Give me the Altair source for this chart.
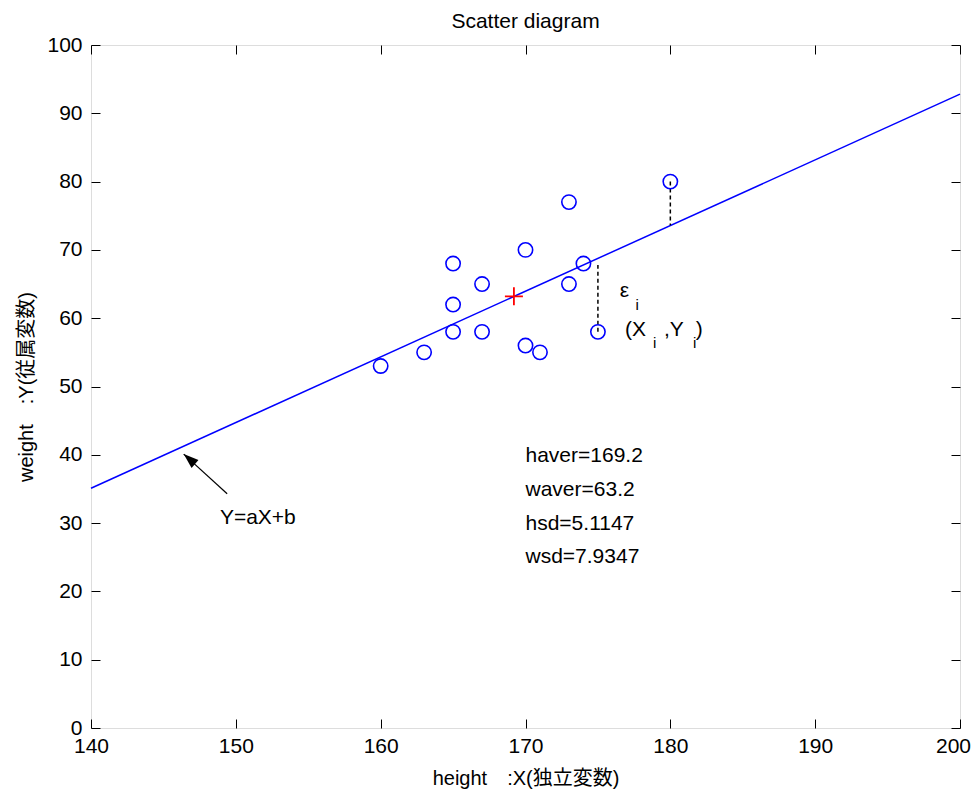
import altair as alt
import pandas as pd

# ---- data ----
heights = [160, 163, 165, 165, 165, 167, 167, 170, 170, 171, 173, 173, 174, 175, 180]
weights = [53, 55, 68, 62, 58, 65, 58, 70, 56, 55, 77, 65, 68, 58, 80]
h_mean = [169.2]
w_mean = [63.2]
fit_x = [140, 200]
fit_y = [35.1, 92.8]
resid_x = [175, 180]
resid_from = [58, 80]
resid_to = [67.8, 73.6]
stats_text = ["haver=169.2", "waver=63.2", "hsd=5.1147", "wsd=7.9347"]
stats_x = [170, 170, 170, 170]
stats_y = [38.9, 34.0, 29.0, 24.2]
ann_text = ["ε", "i", "(X", "i", ",Y", "i", ")", "Y=aX+b"]
ann_x = [176.5, 177.6, 176.87, 178.8, 179.56, 181.57, 181.75, 148.9]
ann_y = [63.1, 61.2, 57.4, 55.6, 57.4, 55.6, 57.4, 29.9]
ann_size = [21, 15, 21, 15, 21, 15, 21, 21]
arrow_x = [149.4, 146.4]
arrow_y = [34.3, 40.1]
x_ticks = [140, 150, 160, 170, 180, 190, 200]
y_ticks = [0, 10, 20, 30, 40, 50, 60, 70, 80, 90, 100]

FONT = "Liberation Sans"
CJK = "Liberation Sans, Noto Sans CJK JP"

pts = pd.DataFrame({"x": heights, "y": weights})
fit = pd.DataFrame({"x": fit_x, "y": fit_y})
mean = pd.DataFrame({"x": h_mean, "y": w_mean})
resid = pd.DataFrame({"x": resid_x, "y": resid_from, "y2": resid_to})
stats = pd.DataFrame({"x": stats_x, "y": stats_y, "t": stats_text})
ann = pd.DataFrame({"x": ann_x, "y": ann_y, "t": ann_text, "s": ann_size})
arrow = pd.DataFrame({"x": arrow_x, "y": arrow_y})
head = arrow.iloc[[1]]

xs = alt.Scale(domain=[140, 200], nice=False, zero=False)
ys = alt.Scale(domain=[0, 100], nice=False, zero=False)

common = dict(grid=False, domain=False, tickSize=9, offset=-9, tickColor="black",
              tickWidth=1, labelColor="black", labelFont=FONT, labelFontSize=21,
              titleColor="black", titleFontWeight="normal", titleFont=CJK,
              titleFontSize=20, labelFlush=False, labelOverlap=False, format="d")

x_axis = alt.Axis(orient="bottom", values=x_ticks, labelPadding=7,
                  labelOffset={"condition": {"test": "datum.value == 200", "value": -7}, "value": 0},
                  title="height\u3000:X(独立変数)", titlePadding=12, **common)
y_axis = alt.Axis(orient="left", values=y_ticks, labelPadding=9,
                  title="weight\u3000:Y(従属変数)", titlePadding=10, **common)
top_axis = alt.Axis(orient="top", values=x_ticks, labels=False, title=None, **common)
right_axis = alt.Axis(orient="right", values=y_ticks, labels=False, title=None, **common)


def X(axis=None):
    return alt.X("x:Q", scale=xs, axis=axis)


def Y(axis=None):
    return alt.Y("y:Q", scale=ys, axis=axis)


fit_line = alt.Chart(fit).mark_line(color="#0000ff", strokeWidth=1.5).encode(
    x=X(x_axis), y=Y(y_axis))

frame_axes = alt.Chart(fit).mark_line(opacity=0).encode(x=X(top_axis), y=Y(right_axis))

resid_rules = alt.Chart(resid).mark_rule(color="black", strokeWidth=1.5, strokeDash=[4, 3]).encode(
    x=X(), y=Y(), y2="y2:Q")

points = alt.Chart(pts).mark_point(shape="circle", filled=False, color="#0000ff",
                                   size=205, strokeWidth=1.6, opacity=1).encode(x=X(), y=Y())

plus = alt.Chart(mean).mark_point(shape="M-1,0L1,0M0,-1L0,1", filled=False, color="#ff0000",
                                  size=324, strokeWidth=1.8, opacity=1).encode(x=X(), y=Y())

arrow_line = alt.Chart(arrow).mark_line(color="black", strokeWidth=1.2).encode(x=X(), y=Y())

arrow_head = alt.Chart(head).mark_point(shape="M0,0L-0.35,1L0.35,1Z", filled=True, color="black",
                                        size=900, angle=311, opacity=1).encode(x=X(), y=Y())

stats_txt = alt.Chart(stats).mark_text(align="left", baseline="alphabetic", font=FONT,
                                       fontSize=21, color="black").encode(x=X(), y=Y(), text="t:N")

ann_txt = alt.Chart(ann).mark_text(align="left", baseline="alphabetic", font=FONT,
                                   color="black").encode(
    x=X(), y=Y(), text="t:N", size=alt.Size("s:Q", scale=None, legend=None))

chart = alt.layer(
    fit_line, frame_axes, resid_rules, points, plus, arrow_line, arrow_head, stats_txt, ann_txt
).resolve_axis(x="independent", y="independent").properties(
    width=869, height=683,
    autosize=alt.AutoSizeParams(type="none"),
    padding={"left": 83, "top": 37, "right": 11, "bottom": 64},
    title=alt.TitleParams("Scatter diagram", font=FONT, fontSize=21, fontWeight="normal",
                          color="black", anchor="middle", offset=2),
).configure_view(stroke="black", strokeWidth=1.5).configure(background="white")

chart.save("out.html", embed_options={"renderer": "svg", "actions": False})
